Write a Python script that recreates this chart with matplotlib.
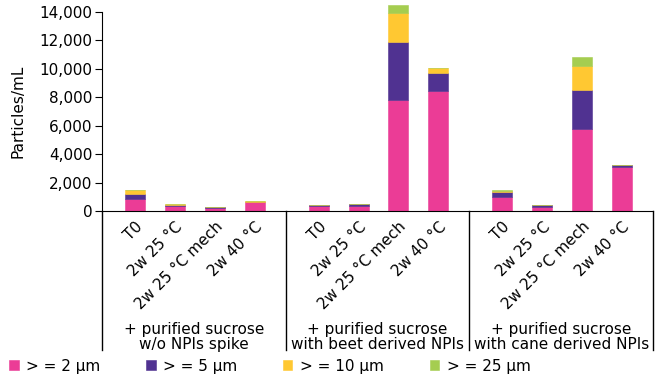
import matplotlib
matplotlib.use("Agg")
import matplotlib.pyplot as plt
from matplotlib.ticker import FuncFormatter

plt.rcParams['font.family'] = ['DejaVu Sans']

groups = ["+ purified sucrose\nw/o NPIs spike",
          "+ purified sucrose\nwith beet derived NPIs",
          "+ purified sucrose\nwith cane derived NPIs"]
conditions = ["T0", "2w 25 °C", "2w 25 °C mech", "2w 40 °C"]
series_names = ["> = 2 µm", "> = 5 µm", "> = 10 µm", "> = 25 µm"]
colors = ["#EB3C96", "#503291", "#FFC832", "#A5CD50"]

# values per bar (group-major order: 3 groups x 4 conditions)
s2 = [840, 350, 200, 600,   330, 380, 7820, 8420,   960, 290, 5740, 3080]
s5 = [330, 70, 50, 60,      70, 80, 4100, 1310,     350, 100, 2800, 170]
s10 = [280, 50, 10, 20,     20, 30, 1990, 300,      120, 40, 1660, 20]
s25 = [20, 10, 0, 0,        0, 0, 580, 50,          20, 10, 650, 0]

fig = plt.figure(figsize=(6.69, 3.85), dpi=100)
ax = fig.add_axes([102/669, 1-211/385, (653-102)/669, (211-12)/385])

gw = 4.6
off = 0.825
xs = [g*gw + off + i for g in range(len(groups)) for i in range(len(conditions))]
labels = [c for g in groups for c in conditions]

bottom = [0]*len(xs)
handles = []
for vals, col, name in zip([s2, s5, s10, s25], colors, series_names):
    h = ax.bar(xs, vals, width=0.5, bottom=bottom, color=col, label=name,
               edgecolor=col, linewidth=0.4, clip_on=False)
    handles.append(h)
    bottom = [b+v for b, v in zip(bottom, vals)]

ax.set_xlim(0, gw*len(groups))
ax.set_ylim(0, 14000)
ax.set_yticks(range(0, 14001, 2000))
ax.yaxis.set_major_formatter(FuncFormatter(lambda v, p: f"{int(v):,}"))
ax.tick_params(axis='y', direction='out', length=5, labelsize=11, pad=2)
ax.set_xticks(xs)
ax.set_xticklabels(labels, rotation=45, ha='right', va='top',
                   rotation_mode='anchor', fontsize=11)
ax.tick_params(axis='x', length=0, pad=6)
for s in ['top', 'right']:
    ax.spines[s].set_visible(False)
ax.set_ylabel("Particles/mL", fontsize=11, labelpad=10)

tr = ax.get_xaxis_transform()
ybot = -(350-211)/199
for g in range(len(groups)+1):
    ax.plot([g*gw, g*gw], [0, ybot], color='black', lw=1, transform=tr,
            clip_on=False)
for g, name in enumerate(groups):
    ax.text(g*gw + gw/2, -(337-211)/199, name, transform=tr, ha='center',
            va='center', fontsize=11, linespacing=0.92)

fig.legend(handles=handles, labels=series_names, loc='center left',
           bbox_to_anchor=(0.005, 1-366/385), ncol=4, frameon=False,
           fontsize=11, handlelength=0.6, handleheight=0.6,
           handletextpad=0.5, columnspacing=3.0, borderaxespad=0)

fig.savefig("out.png", dpi=100)
